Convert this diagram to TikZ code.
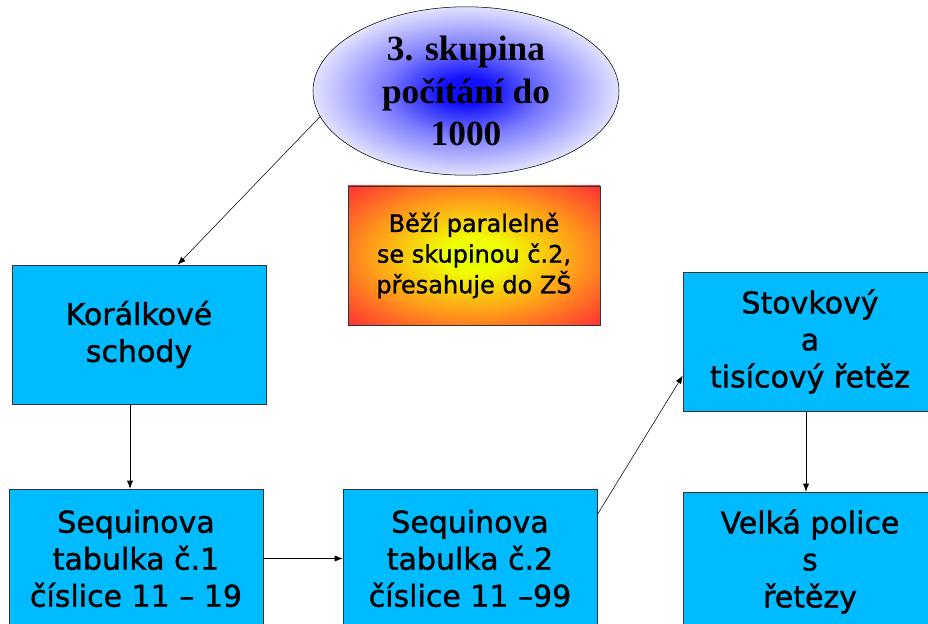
\documentclass[tikz,border=0pt]{standalone}
\usepackage{fontspec}
\setmainfont{DejaVu Sans}[FakeBold=1.2]
\newfontfamily\timesbold{Liberation Serif}[BoldFont={Liberation Serif Bold}]
\usetikzlibrary{arrows.meta,shapes.geometric}
\definecolor{nebe}{HTML}{00BBFF}
\definecolor{modra}{HTML}{1010FF}
\definecolor{levandule}{HTML}{E2E2FF}
\definecolor{zluta}{HTML}{E6FF00}
\definecolor{oranz}{HTML}{FF9A1A}
\definecolor{cervena}{HTML}{FF3333}
\definecolor{ramecek}{HTML}{333333}
\pgfdeclareradialshading{modrazar}{\pgfpoint{0bp}{0bp}}{color(0bp)=(modra); color(4bp)=(modra); color(13bp)=(modra!50!levandule); color(25bp)=(levandule); color(50bp)=(levandule)}
\pgfdeclareradialshading{ohen}{\pgfpoint{0bp}{0bp}}{color(0bp)=(zluta); color(6bp)=(zluta!60!yellow); color(21bp)=(oranz); color(35bp)=(cervena); color(50bp)=(cervena)}

\begin{document}
\begin{tikzpicture}[x=0.75pt, y=-0.75pt,
    box/.style={draw=ramecek, fill=nebe, minimum width=190.5pt, minimum height=104.25pt,
        align=center, font=\fontsize{22.5}{27.75}\selectfont},
    sipka/.style={-{Latex[length=6pt,width=4.5pt]}, black}]

    \useasboundingbox (0,0) rectangle (928,624);
    \clip (0,0) rectangle (928,624);

    % Draw the ellipse
    \node[ellipse, draw=black, shade, shading=modrazar, minimum width=229.5pt, minimum height=122.25pt,
        align=center, font=\timesbold\bfseries\fontsize{26.5}{32}\selectfont] (cil) at (466,91)
        {3. skupina\\počítání do\\1000};

    % Draw the note
    \node[draw=ramecek, shade, shading=ohen, minimum width=189pt, minimum height=104.25pt,
        align=center, font=\fontsize{18}{23}\selectfont] (pozn) at (474,255.5)
        {Běží paralelně\\se skupinou č.2,\\přesahuje do ZŠ};

    % Draw the boxes
    \node[box] (koral) at (139,334.5) {Korálkové\\schody};
    \node[box] (seq1) at (136,558.5) {Sequinova\\tabulka č.1\\číslice 11 -- 19};
    \node[box] (seq2) at (470,558.5) {Sequinova\\tabulka č.2\\číslice 11 --99};
    \node[box] (stovky) at (810,341.5) {Stovkový\\a\\tisícový řetěz};
    \node[box] (velka) at (810,561.5) {Velká police\\s\\řetězy};

    % Arrows
    \draw[sipka] (cil.190) -- (koral.61);
    \draw[sipka] ([xshift=-6.75pt]koral.south) -- ([xshift=-6.75pt]koral.south |- seq1.north);
    \draw[sipka] (seq1.east) -- (seq2.west);
    \draw[sipka] (seq2.19) -- (stovky.195);
    \draw[sipka] ([xshift=-3pt]stovky.south) -- ([xshift=-3pt]stovky.south |- velka.north);
\end{tikzpicture}
\end{document}
